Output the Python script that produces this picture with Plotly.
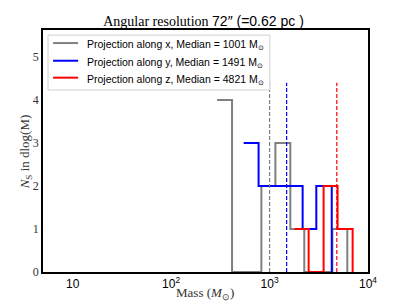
import plotly.graph_objects as go

# ---- data ----
# bin edges (solar masses) and counts per bin for each projection
edges_x = [293, 416, 585, 826, 1146, 1626, 2254, 3162, 4345, 6166]
counts_x = [4, 0, 0, 2, 3, 1, 0, 0, 1]
edges_y = [546, 774, 1091, 1538, 2168, 2985, 4285]
counts_y = [3, 2, 2, 2, 1, 2]
edges_z = [1799, 2495, 3540, 4909, 6982]
counts_z = [1, 0, 2, 1]

medians = [1001, 1491, 4821]
names = ["Projection along x, Median = 1001 M<sub>\u2299</sub>",
         "Projection along y, Median = 1491 M<sub>\u2299</sub>",
         "Projection along z, Median = 4821 M<sub>\u2299</sub>"]
colors = ["#808080", "#0000ff", "#ff0000"]

x_tickvals = [10, 100, 1000, 10000]
x_ticktext = ["10", "10<sup>2</sup>", "10<sup>3</sup>", "10<sup>4</sup>"]
y_tickvals = [0, 1, 2, 3, 4, 5]

SERIF = "Liberation Serif"
SANS = "Liberation Sans"

fig = go.Figure()
for e, c, n, col in zip([edges_x, edges_y, edges_z],
                        [counts_x, counts_y, counts_z], names, colors):
    fig.add_trace(go.Scatter(x=e, y=list(c) + [0], mode="lines",
                             line=dict(color=col, width=2, shape="hv"),
                             name=n, showlegend=False))

for m, col in zip(medians, colors):
    fig.add_shape(type="line", xref="x", yref="y", x0=m, x1=m, y0=0, y1=4.4,
                  line=dict(color=col, width=1.2, dash="4px,2px"))

# legend box drawn in the matplotlib style (inside the axes, upper left)
fig.add_shape(type="rect", xref="paper", yref="paper", x0=0.0154, x1=0.698,
              y0=0.752, y1=0.979, fillcolor="white",
              line=dict(color="#d0d0d0", width=1))
row_y = [0.946, 0.873, 0.803]
annotations = []
for ry, n, col in zip(row_y, names, colors):
    fig.add_shape(type="line", xref="paper", yref="paper", x0=0.031, x1=0.108,
                  y0=ry, y1=ry, line=dict(color=col, width=2))
    annotations.append(dict(text=n, xref="paper", yref="paper", x=0.128, y=ry - 0.008,
                            xanchor="left", yanchor="middle", showarrow=False,
                            font=dict(family=SANS, size=10.5, color="black")))

annotations += [
    dict(text="<i>N</i><sub>S</sub> in dlog(M)", xref="paper", yref="paper",
         x=-0.055, y=0.495, xanchor="center", yanchor="middle", textangle=-90,
         showarrow=False, font=dict(family=SERIF, size=13, color="#333333")),
    dict(text="Mass (<i>M</i><sub>\u2299</sub>)", xref="paper", yref="paper",
         x=0.498, y=-0.09, xanchor="center", yanchor="middle",
         showarrow=False, font=dict(family=SERIF, size=13, color="#333333")),
]

fig.update_layout(
    width=407, height=303, autosize=False,
    margin=dict(l=43, r=39, t=30, b=31, pad=0),
    paper_bgcolor="white", plot_bgcolor="white",
    title=dict(text="<span style='font-family:Liberation Serif'>Angular resolution</span> "
                    "<span style='font-family:Liberation Sans'>72\u2033 (=0.62 pc )</span>",
               x=0.5, xanchor="center", y=0.93, yanchor="middle", automargin=False,
               font=dict(family=SERIF, size=14, color="black")),
    showlegend=False,
    annotations=annotations,
)
fig.update_xaxes(type="log", range=[0.699, 4], tickvals=x_tickvals, ticktext=x_ticktext,
                 automargin=False,
                 showgrid=False, zeroline=False, showline=True, linecolor="black",
                 linewidth=1.5, mirror=True, ticks="",
                 tickfont=dict(family=SANS, size=12, color="black"))
fig.update_yaxes(range=[0, 5.63], tickvals=y_tickvals, automargin=False,
                 showgrid=False, zeroline=False, showline=True, linecolor="black",
                 linewidth=1.5, mirror=True, ticks="",
                 tickfont=dict(family=SERIF, size=12, color="#333333"))

fig.write_html("out.html", config={"displayModeBar": False},
               post_script="document.body.style.margin='0';document.body.style.overflow='hidden';")
